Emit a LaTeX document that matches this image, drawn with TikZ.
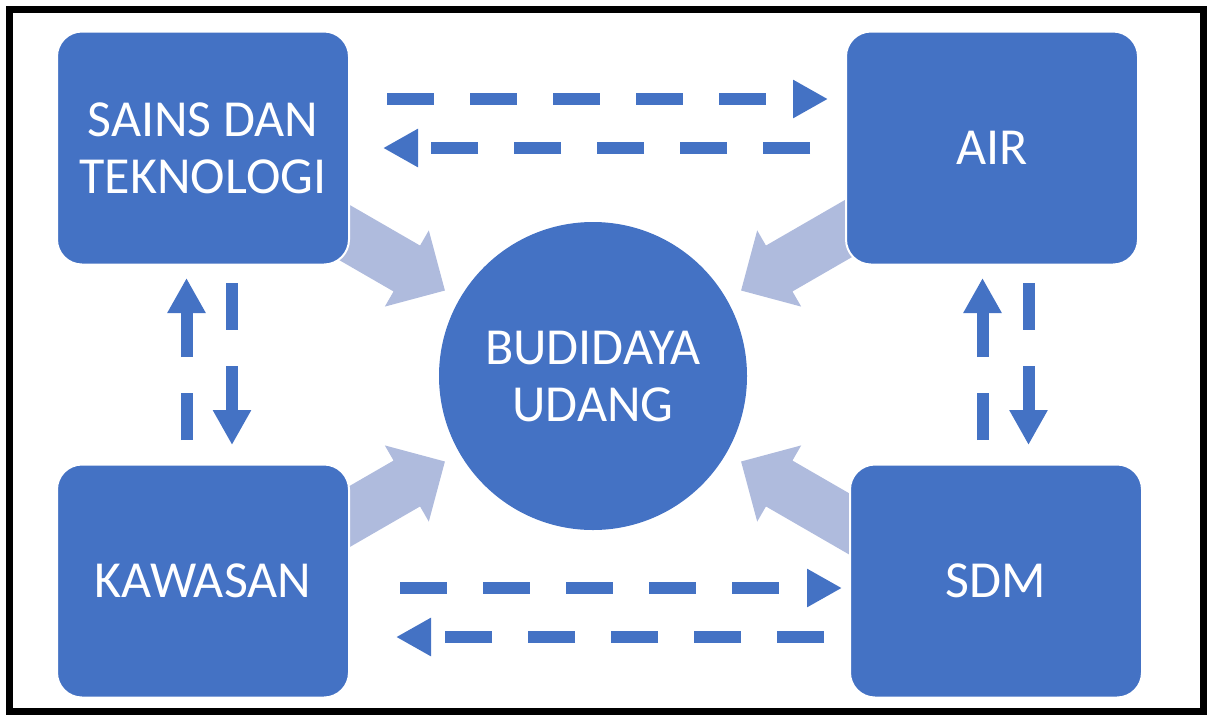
\documentclass[tikz,border=0pt]{standalone}
\usepackage{fontspec}
\setmainfont{Carlito}
\usetikzlibrary{arrows.meta,positioning}
\definecolor{boxblue}{RGB}{68,114,196}
\definecolor{feedblue}{RGB}{175,187,221}

\begin{document}
\begin{tikzpicture}
                [x=1pt,y=-1pt,
                 box/.style={rectangle,rounded corners=25pt,fill=boxblue,draw=white,line width=2pt,
                             minimum width=292pt,minimum height=233pt,inner sep=0pt,outer sep=0pt,
                             text=white,align=center,font=\fontsize{52}{57}\selectfont},
                 hub/.style={circle,fill=boxblue,minimum size=308pt,inner sep=0pt,outer sep=0pt,
                             text=white,align=center,font=\fontsize{52}{57}\selectfont},
                 feed/.style={fill=feedblue},
                 flow/.style={-{Triangle[length=35pt,width=36pt]},draw=boxblue,line width=12pt,
                              dash pattern=on 47pt off 36pt}]

                \useasboundingbox (0,0) rectangle (1207,716);
                \draw[line width=7pt] (9.5,9) rectangle (1203.5,711.5);

                \node[hub]    (budidaya) at (593,376)                {BUDIDAYA\\UDANG};

                \foreach \ang in {30,150,210,330}
                    \fill[feed,shift={(budidaya.center)},rotate=\ang]
                        (171pt,0pt) -- (215pt,44pt) -- (215pt,26.5pt) -- (320pt,26.5pt)
                        -- (320pt,-26.5pt) -- (215pt,-26.5pt) -- (215pt,-44pt) -- cycle;

                \node[box]    (sains)    at (203,148)                {SAINS DAN\\TEKNOLOGI};
                \node[box]    (air)      [right=497pt of sains]      {AIR};
                \node[box]    (kawasan)  [below=200pt of sains]      {KAWASAN};
                \node[box]    (sdm)      [right=501pt of kawasan]    {SDM};

                \draw[flow] ([xshift=38pt,yshift=49pt]sains.east)    -- ([xshift=-18pt,yshift=49pt]air.west);
                \draw[flow] ([xshift=-36pt]air.west)                 -- ([xshift=34pt]sains.east);
                \draw[flow] ([xshift=51pt,yshift=-7pt]kawasan.east)  -- ([xshift=-8pt,yshift=-7pt]sdm.west);
                \draw[flow] ([xshift=-26pt,yshift=-56pt]sdm.west)    -- ([xshift=47pt,yshift=-56pt]kawasan.east);

                \draw[flow] ([xshift=-16.5pt,yshift=24.5pt]kawasan.north) -- ([xshift=-16.5pt,yshift=-13.5pt]sains.south);
                \draw[flow] ([xshift=29pt,yshift=-18.5pt]sains.south)     -- ([xshift=29pt,yshift=19.5pt]kawasan.north);
                \draw[flow] ([xshift=-13.5pt,yshift=24.5pt]sdm.north)     -- ([xshift=-9.5pt,yshift=-13.5pt]air.south);
                \draw[flow] ([xshift=36.5pt,yshift=-18.5pt]air.south)     -- ([xshift=32.5pt,yshift=19.5pt]sdm.north);

            \end{tikzpicture}
\end{document}
